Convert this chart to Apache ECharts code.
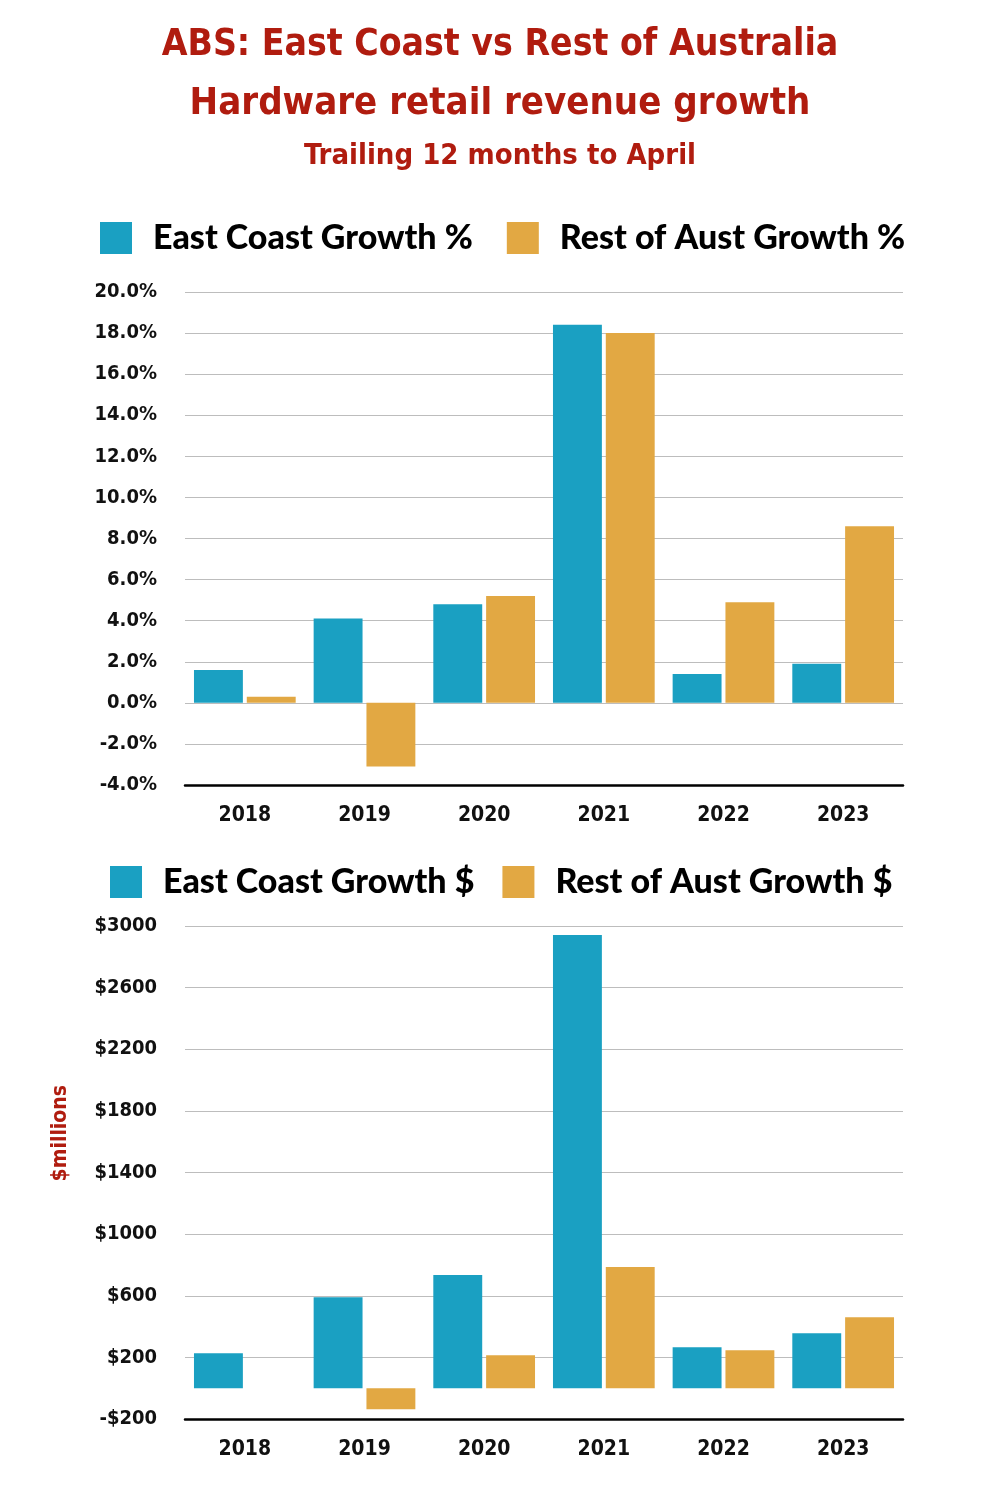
<!DOCTYPE html>
<html>
<head>
<meta charset="utf-8">
<script src="https://cdn.jsdelivr.net/npm/echarts@6/dist/echarts.min.js"></script>
<style>html,body{margin:0;padding:0;background:#fff}#c{width:1000px;height:1500px}</style>
</head>
<body>
<div id="c"></div>
<script>
const years = ['2018','2019','2020','2021','2022','2023'];
const eastPct = [1.6, 4.1, 4.8, 18.4, 1.4, 1.9];
const restPct = [0.3, -3.1, 5.2, 18.0, 4.9, 8.6];
const eastDollar = [227, 591, 734, 2941, 266, 357];
const restDollar = [0, -136, 214, 786, 247, 461];
const pctTicks = {min: -4, max: 20, interval: 2};
const dollarTicks = {min: -200, max: 3000, interval: 400};

const BLUE = '#1aa0c2', ORANGE = '#e2a843', RED = '#b01c0f';
const NARROW = '"Liberation Sans Narrow", "DejaVu Sans Condensed", "Roboto Condensed", sans-serif';
const LEG = 'Lato, "Open Sans", sans-serif';

const chart = echarts.init(document.getElementById('c'));
const axisLabel = {fontFamily: NARROW, fontWeight: 'bold', fontSize: 20, color: '#111'};
function yAxis(idx, t, fmt) {
  return {type: 'value', gridIndex: idx, min: t.min, max: t.max, interval: t.interval,
    axisLine: {show: false}, axisTick: {show: false},
    splitLine: {lineStyle: {color: '#bdbdbd', width: 1}},
    axisLabel: Object.assign({margin: 28, formatter: fmt}, axisLabel)};
}
function xAxis(idx) {
  return {type: 'category', gridIndex: idx, data: years,
    axisLine: {onZero: false, lineStyle: {color: '#000', width: 2.5}},
    axisTick: {show: false},
    axisLabel: Object.assign({margin: 20}, axisLabel, {fontSize: 21})};
}
function bar(name, data, color, idx) {
  return {name, type: 'bar', data, xAxisIndex: idx, yAxisIndex: idx,
    itemStyle: {color}, barGap: '8%', barCategoryGap: '15%'};
}
const legendText = {fontFamily: LEG, fontWeight: 900, fontSize: 34, color: '#000', padding: [0, 0, 0, 16]};
chart.setOption({
  animation: false,
  title: [
    {text: 'ABS: East Coast vs Rest of Australia', left: 'center', top: 22,
     textStyle: {fontFamily: NARROW, fontWeight: 'bold', fontSize: 37, color: RED}},
    {text: 'Hardware retail revenue growth', left: 'center', top: 80,
     textStyle: {fontFamily: NARROW, fontWeight: 'bold', fontSize: 38, color: RED}},
    {text: 'Trailing 12 months to April', left: 'center', top: 137,
     textStyle: {fontFamily: NARROW, fontWeight: 'bold', fontSize: 29, color: RED}}
  ],
  legend: [
    {data: ['East Coast Growth %', 'Rest of Aust Growth %'], left: 95, top: 216,
     itemWidth: 32, itemHeight: 32, itemGap: 34, icon: 'rect', textStyle: legendText},
    {data: ['East Coast Growth $', 'Rest of Aust Growth $'], left: 105, top: 860,
     itemWidth: 32, itemHeight: 32, itemGap: 28, icon: 'rect', textStyle: legendText}
  ],
  grid: [
    {left: 185, right: 97, top: 292, height: 493},
    {left: 185, right: 97, top: 926, height: 493}
  ],
  xAxis: [xAxis(0), xAxis(1)],
  yAxis: [
    yAxis(0, pctTicks, v => v.toFixed(1) + '%'),
    yAxis(1, dollarTicks, v => (v < 0 ? '-$' + Math.abs(v) : '$' + v))
  ],
  series: [
    bar('East Coast Growth %', eastPct, BLUE, 0),
    bar('Rest of Aust Growth %', restPct, ORANGE, 0),
    bar('East Coast Growth $', eastDollar, BLUE, 1),
    bar('Rest of Aust Growth $', restDollar, ORANGE, 1)
  ],
  graphic: [{type: 'text', left: 50, top: 1085, rotation: Math.PI / 2,
    style: {text: '$millions', fill: RED, font: 'bold 21px "Liberation Sans Narrow", "DejaVu Sans Condensed", sans-serif',
      align: 'center', verticalAlign: 'middle'}}]
});
</script>
</body>
</html>
